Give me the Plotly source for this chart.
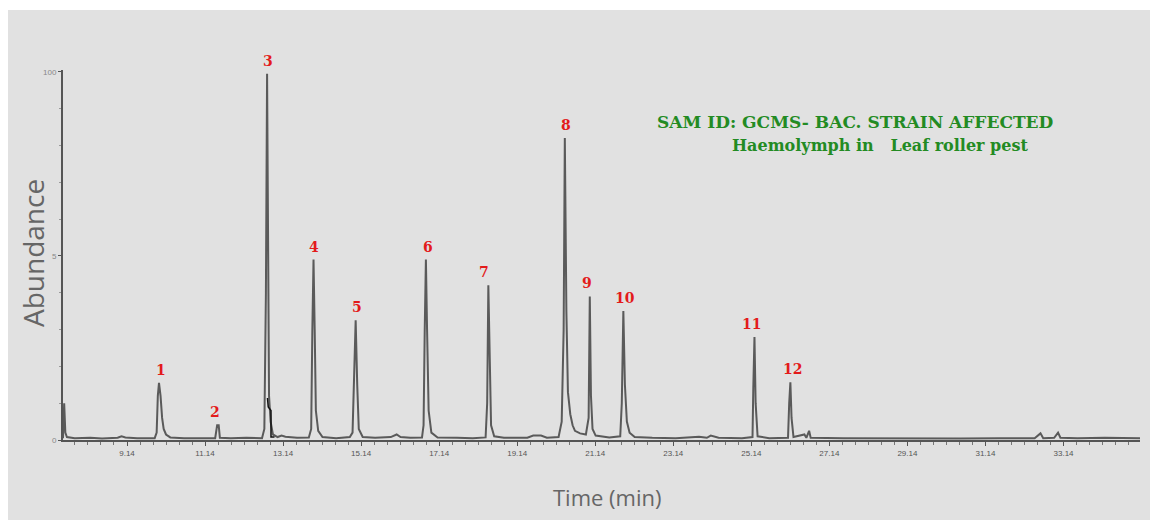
import plotly.graph_objects as go

# ---- chromatogram trace (time in min, abundance %) ----
trace_time = [
    7.50, 7.53, 7.56, 7.60, 7.80, 8.20, 8.50, 8.90, 9.00, 9.10, 9.40,
    9.85, 9.90, 9.93, 9.96, 10.00, 10.04, 10.08, 10.14, 10.25, 10.60,
    11.00, 11.40, 11.45, 11.49, 11.52, 11.80, 12.20, 12.60,
    12.66, 12.70, 12.73, 12.76, 12.78, 12.82, 12.88, 13.00, 13.10, 13.20,
    13.50, 13.80, 13.86, 13.89, 13.92, 13.95, 13.98, 14.04, 14.15, 14.50,
    14.85, 14.92, 14.96, 15.00, 15.04, 15.08, 15.18, 15.50, 15.90, 16.05,
    16.15, 16.40, 16.70, 16.74, 16.77, 16.80, 16.83, 16.87, 16.94, 17.10,
    17.60, 18.00, 18.33, 18.37, 18.40, 18.43, 18.47, 18.55, 18.80, 19.40,
    19.55, 19.75, 19.90, 20.20, 20.28, 20.33, 20.36, 20.40, 20.44, 20.50,
    20.56, 20.62, 20.75, 20.90, 20.97, 21.00, 21.03, 21.07, 21.15, 21.50,
    21.78, 21.82, 21.86, 21.90, 21.95, 22.02, 22.15, 22.60, 23.20, 23.80,
    24.00, 24.10, 24.30, 24.90, 25.17, 25.19, 25.22, 25.25, 25.30, 25.60,
    26.08, 26.11, 26.14, 26.17, 26.22, 26.50, 26.55, 26.62, 26.66, 27.50,
    28.50, 29.50, 30.50, 31.50, 32.40, 32.55, 32.62, 32.90, 33.00, 33.06,
    33.50, 34.20, 35.10,
]
trace_abund = [
    0.5, 10.0, 2.0, 0.8, 0.5, 0.6, 0.4, 0.6, 1.0, 0.7, 0.5,
    0.5, 2.0, 12.0, 15.5, 12.0, 6.0, 3.0, 1.5, 0.7, 0.5,
    0.6, 0.5, 4.0, 4.0, 0.6, 0.5, 0.6, 0.5,
    3.0, 40.0, 99.5, 40.0, 12.0, 5.0, 1.5, 0.8, 1.2, 0.9,
    0.6, 0.7, 3.0, 30.0, 49.0, 30.0, 8.0, 2.5, 0.8, 0.5,
    0.8, 2.0, 15.0, 32.5, 15.0, 3.0, 0.8, 0.6, 0.8, 1.5,
    0.8, 0.6, 0.7, 4.0, 30.0, 49.0, 30.0, 8.0, 2.0, 0.7,
    0.6, 0.5, 0.7, 10.0, 42.0, 20.0, 4.0, 1.0, 0.6, 0.6,
    1.2, 1.2, 0.6, 0.8, 5.0, 30.0, 82.0, 35.0, 13.0, 7.0,
    4.0, 2.5, 1.8, 1.5, 6.0, 39.0, 12.0, 3.0, 1.2, 0.7,
    1.0, 10.0, 35.0, 15.0, 5.0, 2.0, 0.8, 0.6, 0.5, 0.9,
    0.6, 1.2, 0.6, 0.5, 0.8, 14.0, 28.0, 10.0, 1.0, 0.5,
    0.6, 10.0, 15.7, 6.0, 0.8, 1.5, 0.6, 2.5, 0.6, 0.5,
    0.4, 0.5, 0.4, 0.5, 0.5, 1.8, 0.5, 0.6, 2.0, 0.6,
    0.5, 0.6, 0.5,
]

# black integration mark beside peak 3
mark_time = [12.74, 12.76, 12.83, 12.83, 12.92]
mark_abund = [11.4, 9.0, 8.0, 0.8, 0.8]

# ---- peak labels ----
peak_labels = ["1", "2", "3", "4", "5", "6", "7", "8", "9", "10", "11", "12"]
peak_times = [10.00, 11.39, 12.76, 13.94, 15.04, 16.86, 18.30, 20.38, 20.94, 21.90, 25.15, 26.19]
peak_heights = [15.5, 4.0, 99.5, 49.0, 32.5, 49.0, 42.0, 82.0, 39.0, 35.0, 28.0, 15.7]

x_tick_vals = [9.14, 11.14, 13.14, 15.14, 17.14, 19.14, 21.14, 23.14, 25.14, 27.14, 29.14, 31.14, 33.14]
x_tick_text = ["9.14", "11.14", "13.14", "15.14", "17.14", "19.14", "21.14",
               "23.14", "25.14", "27.14", "29.14", "31.14", "33.14"]
y_tick_vals = [0, 50, 100]
y_tick_text = ["0", "5", "100"]

title_line1 = "SAM ID: GCMS- BAC. STRAIN AFFECTED"
title_line2 = "Haemolymph in   Leaf roller pest"

# ---- layout geometry (body margin removed by post_script) ----
W, H = 1150, 520
L, R, T, B = 63, 10, 70, 80
PW, PH = W - L - R, H - T - B


def px(xp):
    return (xp - L) / PW


def py(yp):
    return (H - B - yp) / PH


fig = go.Figure()
fig.add_trace(go.Scatter(x=trace_time, y=trace_abund, mode="lines",
                         line=dict(color="#5a5a5a", width=2), hoverinfo="skip",
                         showlegend=False))
fig.add_trace(go.Scatter(x=mark_time, y=mark_abund, mode="lines",
                         line=dict(color="#111111", width=1.5), hoverinfo="skip",
                         showlegend=False))

annotations = []
for lab, t, h in zip(peak_labels, peak_times, peak_heights):
    annotations.append(dict(x=t, y=h, xref="x", yref="y", text="<b>%s</b>" % lab,
                            showarrow=False, yanchor="bottom", yshift=3,
                            font=dict(family="DejaVu Serif", size=14, color="#e31b1b")))

annotations += [
    dict(x=px(655), y=py(122), xref="paper", yref="paper", text="<b>%s</b>" % title_line1,
         showarrow=False, xanchor="left", yanchor="middle",
         font=dict(family="DejaVu Serif", size=17, color="#238b23")),
    dict(x=px(730), y=py(145), xref="paper", yref="paper", text="<b>%s</b>" % title_line2,
         showarrow=False, xanchor="left", yanchor="middle",
         font=dict(family="DejaVu Serif", size=16, color="#238b23")),
    dict(x=px(33), y=py(253), xref="paper", yref="paper", text="Abundance",
         showarrow=False, textangle=-90, xanchor="center", yanchor="middle",
         font=dict(family="Open Sans", size=28, color="#666666")),
    dict(x=px(607), y=py(497), xref="paper", yref="paper", text="Time (min)",
         showarrow=False, xanchor="center", yanchor="middle",
         font=dict(family="Open Sans", size=22, color="#666666")),
]

fig.update_layout(
    width=W, height=H,
    margin=dict(l=L, r=R, t=T, b=B, pad=0),
    paper_bgcolor="white",
    plot_bgcolor="rgba(0,0,0,0)",
    annotations=annotations,
    shapes=[dict(type="rect", xref="paper", yref="paper", layer="below",
                 x0=px(8), x1=px(1160), y0=py(530), y1=py(10),
                 fillcolor="#e1e1e1", line=dict(width=0))],
    xaxis=dict(range=[7.5, 35.1], showgrid=False, zeroline=False,
               showline=True, linecolor="#555555", linewidth=2,
               tickvals=x_tick_vals, ticktext=x_tick_text,
               ticks="outside", ticklen=4, tickcolor="#555555",
               tickfont=dict(family="Liberation Sans", size=8, color="#555555"),
               minor=dict(ticks="outside", ticklen=3, tick0=9.14, dtick=1 / 3,
                          tickcolor="#777777")),
    yaxis=dict(range=[0, 100.5], showgrid=False, zeroline=False,
               showline=True, linecolor="#555555", linewidth=2,
               tickvals=y_tick_vals, ticktext=y_tick_text,
               ticks="outside", ticklen=3, tickcolor="#555555",
               tickfont=dict(family="Liberation Sans", size=8, color="#888888"),
               minor=dict(ticks="outside", ticklen=2, tick0=0, dtick=10,
                          tickcolor="#999999")),
)

fig.write_html("out.html", config={"displayModeBar": False},
               post_script="document.body.style.margin='0';document.body.style.overflow='hidden';")
